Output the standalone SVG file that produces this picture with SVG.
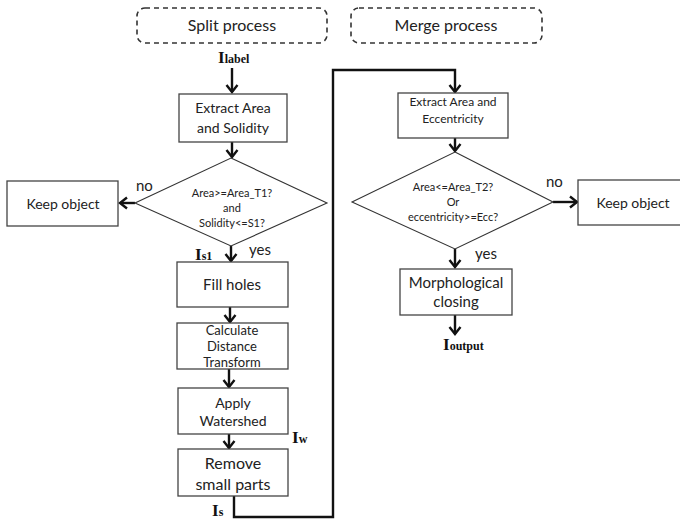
<svg xmlns="http://www.w3.org/2000/svg" width="680" height="521" viewBox="0 0 680 521">
  <defs>
    <marker id="arrow" markerUnits="userSpaceOnUse" markerWidth="14" markerHeight="14" viewBox="-10 -7 12 14" refX="0" refY="0" orient="auto">
      <path d="M-7,-5.5 L0,0 L-7,5.5" fill="none" stroke="#111" stroke-width="2.4" stroke-linejoin="miter"/>
    </marker>
  </defs>
  <style>
    .box { fill: #fff; stroke: #444; stroke-width: 1.3; }
    .phase { fill: #fff; stroke: #333; stroke-width: 1.6; stroke-dasharray: 5 4; }
    .dia { fill: #fff; stroke: #333; stroke-width: 1.1; }
    .t { font-family: Lato, "Open Sans", "Liberation Sans", sans-serif; fill: #222; text-anchor: middle; }
    .t16 { font-size: 16px; }
    .t15 { font-size: 15px; }
    .t14 { font-size: 14px; }
    .t13 { font-size: 13px; }
    .t12 { font-size: 12px; }
    .t10 { font-size: 11px; }
    .lbl { font-family: Lato, "Open Sans", "Liberation Sans", sans-serif; font-size: 15px; fill: #222; }
    .sym { font-family: "Liberation Serif", "Times New Roman", serif; font-weight: bold; fill: #111; font-size: 17px; }
    .sub { font-size: 12px; }
    .conn { fill: none; stroke: #111; stroke-width: 2.4; }
  </style>

  <!-- phase headers -->
  <g id="split-header">
    <rect class="phase" x="137" y="8" width="190" height="35" rx="8"/>
    <text class="t t16" x="232" y="31">Split process</text>
  </g>
  <g id="merge-header">
    <rect class="phase" x="351" y="8" width="191" height="35" rx="8"/>
    <text class="t t16" x="446" y="31">Merge process</text>
  </g>

  <!-- connectors -->
  <g id="connectors">
    <path class="conn" d="M232,68 V92" marker-end="url(#arrow)"/>
    <path class="conn" d="M232,142 V157" marker-end="url(#arrow)"/>
    <path class="conn" d="M135,203 H120" marker-end="url(#arrow)"/>
    <path class="conn" d="M231,246 V261" marker-end="url(#arrow)"/>
    <path class="conn" d="M230,307 V322" marker-end="url(#arrow)"/>
    <path class="conn" d="M229,369 V387" marker-end="url(#arrow)"/>
    <path class="conn" d="M229,434 V448" marker-end="url(#arrow)"/>
    <path class="conn" d="M234,496 V517 H333 V70 H455 V92" marker-end="url(#arrow)"/>
    <path class="conn" d="M455,138 V151" marker-end="url(#arrow)"/>
    <path class="conn" d="M553,202 H577" marker-end="url(#arrow)"/>
    <path class="conn" d="M455,249 V267" marker-end="url(#arrow)"/>
    <path class="conn" d="M455,315 V334" marker-end="url(#arrow)"/>
  </g>

  <!-- signal labels -->
  <g id="labels">
    <text class="sym" x="218" y="63">I<tspan class="sub">label</tspan></text>
    <text class="sym" x="195" y="260">I<tspan class="sub">s1</tspan></text>
    <text class="sym" x="292" y="443">I<tspan class="sub">w</tspan></text>
    <text class="sym" x="212" y="516">I<tspan class="sub">s</tspan></text>
    <text class="sym" x="443" y="350">I<tspan class="sub">output</tspan></text>
    <text class="lbl" x="136" y="191">no</text>
    <text class="lbl" x="249" y="255">yes</text>
    <text class="lbl" x="546" y="187">no</text>
    <text class="lbl" x="475" y="259">yes</text>
  </g>

  <!-- split process -->
  <g id="extract-area-solidity">
    <rect class="box" x="179" y="94" width="108" height="48"/>
    <text class="t t14" x="233" y="113">Extract Area</text>
    <text class="t t14" x="233" y="133">and Solidity</text>
  </g>
  <g id="split-decision">
    <polygon class="dia" points="231,158 327,203 231,246 135,203"/>
    <text class="t t10" x="232" y="197">Area&gt;=Area_T1?</text>
    <text class="t t10" x="232" y="212">and</text>
    <text class="t t10" x="232" y="227">Solidity&lt;=S1?</text>
  </g>
  <g id="keep-object-split">
    <rect class="box" x="7" y="181" width="111" height="45"/>
    <text class="t t14" x="63" y="209">Keep object</text>
  </g>
  <g id="fill-holes">
    <rect class="box" x="177" y="262" width="111" height="45"/>
    <text class="t t15" x="232" y="290">Fill holes</text>
  </g>
  <g id="distance-transform">
    <rect class="box" x="177" y="323" width="111" height="46"/>
    <text class="t t13" x="232" y="335">Calculate</text>
    <text class="t t13" x="232" y="351">Distance</text>
    <text class="t t13" x="232" y="367">Transform</text>
  </g>
  <g id="watershed">
    <rect class="box" x="178" y="388" width="110" height="46"/>
    <text class="t t14" x="233" y="408">Apply</text>
    <text class="t t14" x="233" y="426">Watershed</text>
  </g>
  <g id="remove-small-parts">
    <rect class="box" x="178" y="449" width="110" height="47"/>
    <text class="t t16" x="233" y="469">Remove</text>
    <text class="t t16" x="233" y="490">small parts</text>
  </g>

  <!-- merge process -->
  <g id="extract-area-eccentricity">
    <rect class="box" x="398" y="93" width="110" height="45"/>
    <text class="t t12" x="453" y="106">Extract Area and</text>
    <text class="t t12" x="453" y="123">Eccentricity</text>
  </g>
  <g id="merge-decision">
    <polygon class="dia" points="455,152 553,202 455,249 352,202"/>
    <text class="t t10" x="453" y="191">Area&lt;=Area_T2?</text>
    <text class="t t10" x="453" y="206">Or</text>
    <text class="t t10" x="453" y="221">eccentricity&gt;=Ecc?</text>
  </g>
  <g id="keep-object-merge">
    <rect class="box" x="578" y="180" width="104" height="45"/>
    <text class="t t14" x="633" y="208">Keep object</text>
  </g>
  <g id="morphological-closing">
    <rect class="box" x="400" y="269" width="112" height="46"/>
    <text class="t t15" x="456" y="288">Morphological</text>
    <text class="t t15" x="456" y="307">closing</text>
  </g>
</svg>
